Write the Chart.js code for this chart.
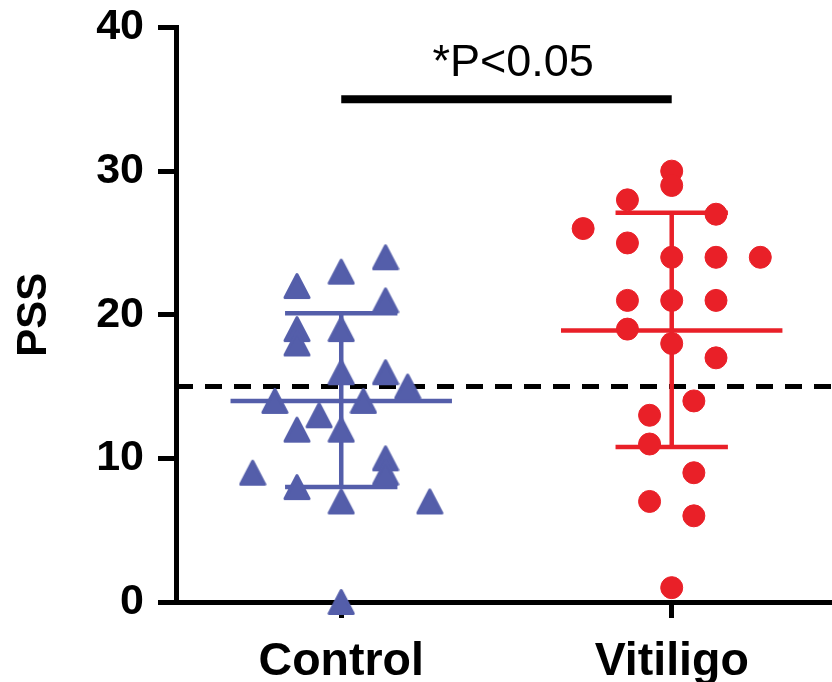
<!DOCTYPE html>
<html>
<head>
<meta charset="utf-8">
<script src="https://cdn.jsdelivr.net/npm/chart.js@4.4.1/dist/chart.umd.min.js"></script>
<style>
  html, body { margin: 0; padding: 0; background: #fff; overflow: hidden; }
  #wrap { width: 832px; height: 682px; }
  canvas { display: block; }
</style>
</head>
<body>
<div id="wrap"><canvas id="pssChart" width="832" height="682"></canvas></div>
<script>
// groups on the x axis
const groups = ['Control', 'Vitiligo'];

// PSS per subject; lane = horizontal jitter column
const controlPSS  = [24, 23, 22, 21, 19, 18, 19, 16, 16, 15, 14, 14, 13, 12, 12, 10, 9, 9, 8, 7, 7, 0];
const controlLane = [ 2,  0, -2,  2, -2, -2,  0,  0,  2,  3, -3,  1, -1, -2,  0,  2, 2, -4, -2, 0, 4, 0];
const vitiligoPSS  = [30, 29, 28, 27, 26, 25, 24, 24, 24, 21, 21, 21, 19, 18, 17, 14, 13, 11, 9, 7, 6, 1];
const vitiligoLane = [ 0,  0, -2,  2, -4, -2,  0,  2,  4, -2,  0,  2, -2,  0,  2,  1, -1, -1, 1, -1, 1, 0];

// mean +/- SD bars
const meanPSS  = [14.0, 18.9];
const sdUpper  = [20.1, 27.1];
const sdLower  = [8.0, 10.8];

const cutoffPSS = 15;
const sigLevel = 35;
const sigLabel = '*P<0.05';
const yTicks = [0, 10, 20, 30, 40];

const BLUE = 'rgb(84, 94, 170)';
const RED = 'rgb(233, 32, 40)';
const FONT = '"Liberation Sans", Arial, sans-serif';
const X_MIN = 0.5, X_MAX = 2.485;
const laneStep = 0.067;
const meanHalf = 0.335;
const capHalf = 0.17;

// triangle marker centred on its bounding box (like the original software)
function makeTriangle(color) {
    const c = document.createElement('canvas');
    c.width = 28; c.height = 28;
    const g = c.getContext('2d');
    g.fillStyle = color; g.strokeStyle = color;
    g.lineWidth = 3; g.lineJoin = 'round';
    g.beginPath();
    g.moveTo(14, 2.5); g.lineTo(26, 25.5); g.lineTo(2, 25.5); g.closePath();
    g.fill(); g.stroke();
    return c;
}
const triangle = makeTriangle(BLUE);

function seg(x1, y1, x2, y2, color, width, order) {
    return {
        type: 'line', data: [{ x: x1, y: y1 }, { x: x2, y: y2 }],
        borderColor: color, borderWidth: width, pointRadius: 0,
        borderCapStyle: 'butt', fill: false, order: order, clip: false
    };
}

const datasets = [
    {
        type: 'scatter', label: groups[0],
        data: controlPSS.map((v, i) => ({ x: 1 + controlLane[i] * laneStep, y: v })),
        pointStyle: triangle, pointRadius: 14,
        backgroundColor: BLUE, borderColor: BLUE, order: 1, clip: false
    },
    {
        type: 'scatter', label: groups[1],
        data: vitiligoPSS.map((v, i) => ({ x: 2 + vitiligoLane[i] * laneStep, y: v })),
        pointStyle: 'circle', pointRadius: 11, pointBorderWidth: 1,
        backgroundColor: RED, borderColor: RED, order: 1, clip: false
    }
];

// mean and SD lines for each group
[BLUE, RED].forEach((col, i) => {
    const c = i + 1;
    datasets.push(seg(c - meanHalf, meanPSS[i], c + meanHalf, meanPSS[i], col, 4.5, 2));
    datasets.push(seg(c, sdLower[i], c, sdUpper[i], col, 4.5, 2));
    datasets.push(seg(c - capHalf, sdUpper[i], c + capHalf, sdUpper[i], col, 4.5, 2));
    datasets.push(seg(c - capHalf, sdLower[i], c + capHalf, sdLower[i], col, 4.5, 2));
});

// cutoff dashed line
const cutoff = seg(X_MIN, cutoffPSS, X_MAX, cutoffPSS, '#000', 5, 3);
cutoff.borderDash = [17, 12];
datasets.push(cutoff);

// significance bar
datasets.push(seg(1, sigLevel, 2, sigLevel, '#000', 8, 2));

const sigText = {
    id: 'sigText',
    afterDatasetsDraw(chart) {
        const { ctx, scales } = chart;
        ctx.save();
        ctx.font = '45px ' + FONT;
        ctx.fillStyle = '#000';
        ctx.textAlign = 'center';
        ctx.fillText(sigLabel, scales.x.getPixelForValue(1.52), scales.y.getPixelForValue(sigLevel) - 23);
        ctx.restore();
    }
};

function noPad(s) {
    s.paddingTop = 0; s.paddingBottom = 0; s.paddingLeft = 0; s.paddingRight = 0;
}

new Chart(document.getElementById('pssChart').getContext('2d'), {
    data: { datasets: datasets },
    plugins: [sigText],
    options: {
        responsive: false,
        animation: false,
        layout: { autoPadding: false, padding: { top: 27.5, left: 0, right: 0, bottom: 0 } },
        plugins: { legend: { display: false }, tooltip: { enabled: false } },
        scales: {
            x: {
                type: 'linear', min: X_MIN, max: X_MAX,
                afterFit: s => { s.height = 80; noPad(s); },
                afterBuildTicks: s => { s.ticks = groups.map((g, i) => ({ value: i + 1 })); },
                ticks: {
                    callback: v => groups[v - 1],
                    color: '#000', padding: 16,
                    font: { family: FONT, size: 46.5, weight: 'bold' }
                },
                grid: { drawOnChartArea: false, tickLength: 16, tickWidth: 5, tickColor: '#000' },
                border: { color: '#000', width: 5 }
            },
            y: {
                min: 0, max: 40,
                afterFit: s => { s.width = 176; noPad(s); },
                afterBuildTicks: s => { s.ticks = yTicks.map(v => ({ value: v })); },
                ticks: {
                    color: '#000', padding: 14,
                    font: { family: FONT, size: 43, weight: 'bold' }
                },
                grid: { drawOnChartArea: false, tickLength: 18, tickWidth: 5, tickColor: '#000' },
                border: { color: '#000', width: 5 },
                title: {
                    display: true, text: 'PSS', color: '#000',
                    font: { family: FONT, size: 42, weight: 'bold' },
                    padding: { top: 9, bottom: 0 }
                }
            }
        }
    }
});
</script>
</body>
</html>
